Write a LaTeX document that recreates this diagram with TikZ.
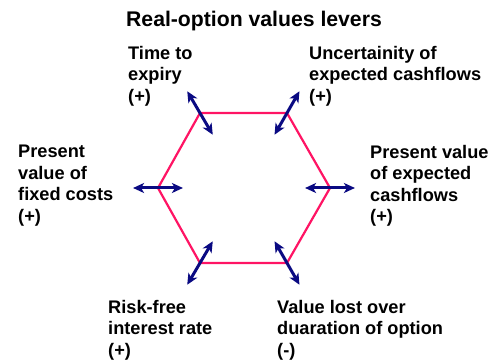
\documentclass[tikz,border=0pt]{standalone}
\usepackage{fontspec}
\setmainfont{Liberation Sans}
\usetikzlibrary{calc,arrows.meta}
\definecolor{hexpink}{RGB}{255,20,100}
\definecolor{levernavy}{RGB}{10,10,130}
\tikzset{
  hexline/.style={draw=hexpink,line width=2.2pt,line join=miter},
  lever/.style={draw=levernavy,line width=3pt,{Stealth[length=11pt,width=10pt,inset=3pt]}-{Stealth[length=11pt,width=10pt,inset=3pt]}},
  lbl/.style={anchor=north west,inner sep=0pt,align=left,font=\bfseries\fontsize{18.2}{21.5}\selectfont},
  ttl/.style={anchor=north,inner sep=0pt,font=\bfseries\fontsize{21.2}{25}\selectfont}
}
\begin{document}
\begin{tikzpicture}[x=1pt,y=-1pt]
\useasboundingbox (0,0) rectangle (496,363);
\coordinate (c) at (244,188);
\coordinate (v1) at (200,113);
\coordinate (v2) at (287,113);
\coordinate (v3) at (330,188);
\coordinate (v4) at (287,263);
\coordinate (v5) at (200,263);
\coordinate (v6) at (158,188);
\draw[hexline] (v1) -- (v2) -- (v3) -- (v4) -- (v5) -- (v6) -- cycle;
\foreach \v in {v1,v2,v3,v4,v5,v6}{
  \draw[lever] ($(c)!1.29!(\v)$) -- ($(c)!0.71!(\v)$);
}
\node[ttl] (title) at (254,11) {Real-option values levers};
\node[lbl] (time) at (128,46) {Time to\\expiry\\(+)};
\node[lbl] (unc) at (309,46) {Uncertainity of\\expected cashflows\\(+)};
\node[lbl] (pvfc) at (18,145) {Present\\value of\\fixed costs\\(+)};
\node[lbl] (pvec) at (370,145) {Present value\\of expected\\cashflows\\(+)};
\node[lbl] (rf) at (108,300) {Risk-free\\interest rate\\(+)};
\node[lbl] (vl) at (277,300) {Value lost over\\duaration of option\\(-)};
\end{tikzpicture}
\end{document}
